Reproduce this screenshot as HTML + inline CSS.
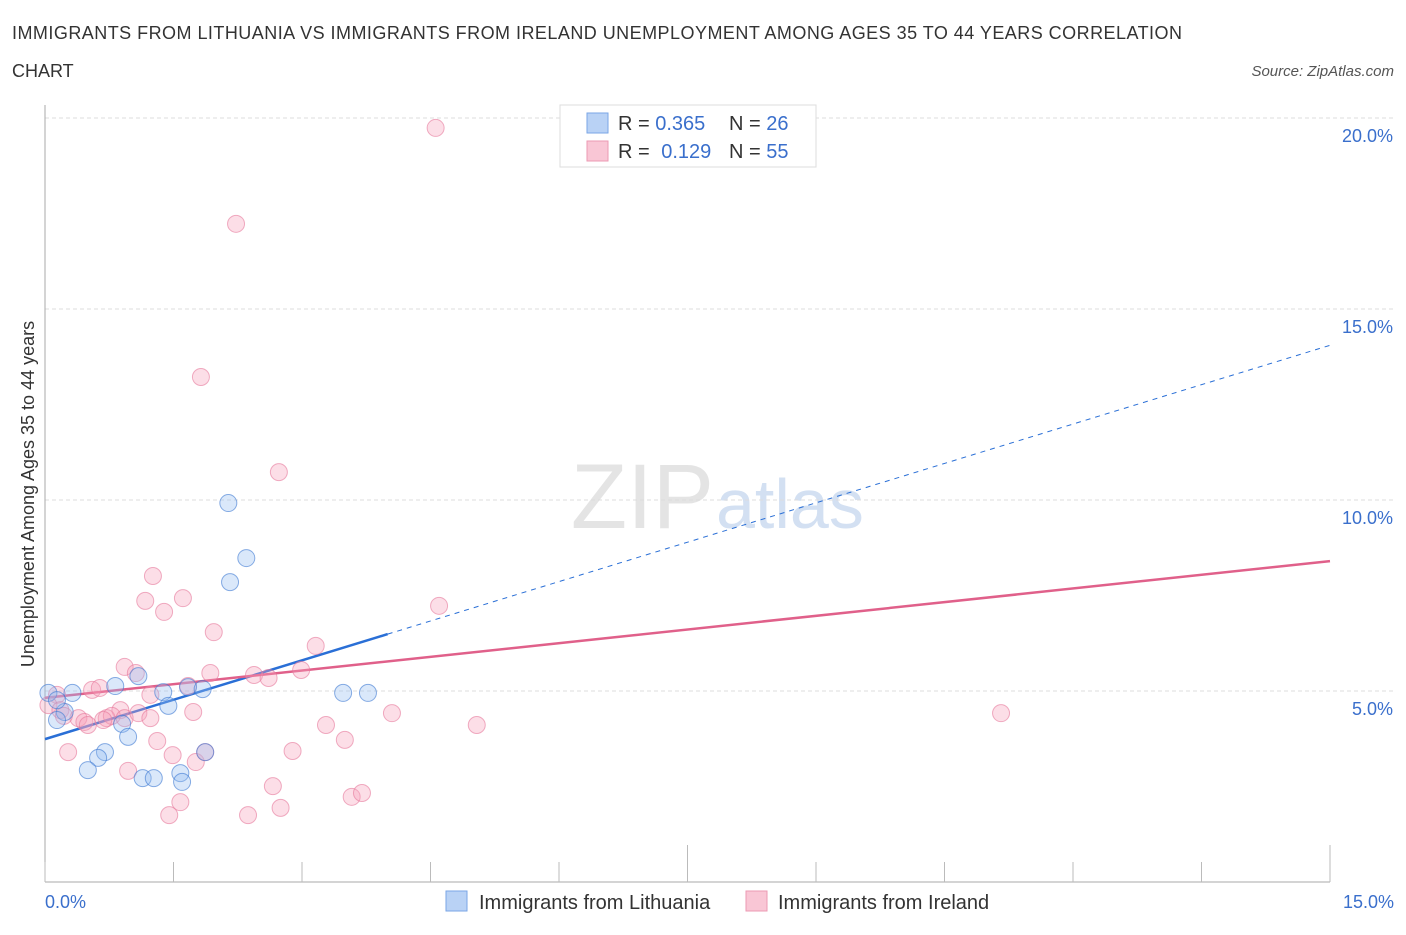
<!DOCTYPE html>
<html><head><meta charset="utf-8"><style>
body{margin:0;background:#fff;font-family:"Liberation Sans",sans-serif;}
svg text{font-family:"Liberation Sans",sans-serif;}
</style></head><body>
<svg id="chart" width="1406" height="930" xmlns="http://www.w3.org/2000/svg">
<text x="12" y="39" font-size="18" fill="#333" textLength="1170">IMMIGRANTS FROM LITHUANIA VS IMMIGRANTS FROM IRELAND UNEMPLOYMENT AMONG AGES 35 TO 44 YEARS CORRELATION</text>
<text x="12" y="77" font-size="18" fill="#333">CHART</text>
<text x="1394" y="76" font-size="15" fill="#555" text-anchor="end" font-style="italic">Source: ZipAtlas.com</text>
<text x="714" y="528" font-size="92" text-anchor="end" fill="#e4e4e4" font-family="Liberation Serif">ZIP</text>
<text x="716" y="528" font-size="70" fill="#d3e0f2">atlas</text>
<g id="grid"></g>
<line x1="45" y1="105" x2="45" y2="882" stroke="#aaa"/>
<line x1="45" y1="882" x2="1330" y2="882" stroke="#aaa"/>
<g id="xticks"></g>
<text transform="translate(34,494) rotate(-90)" font-size="18" fill="#333" text-anchor="middle">Unemployment Among Ages 35 to 44 years</text>
<text x="45" y="908" font-size="18" fill="#3a6fcc">0.0%</text>
<text x="1394" y="908" font-size="18" fill="#3a6fcc" text-anchor="end">15.0%</text>
<g id="trends"></g>
<g id="points"></g>
<g>
<rect x="560" y="105" width="256" height="62" fill="#fff" stroke="#ddd"/>
<rect x="587" y="113" width="21" height="20" fill="#b9d2f5" stroke="#7aa6e6"/>
<rect x="587" y="141" width="21" height="20" fill="#f9c6d5" stroke="#ec9ab3"/>
<text x="618" y="130" font-size="20" fill="#333">R = <tspan fill="#3a6fcc">0.365</tspan></text>
<text x="729" y="130" font-size="20" fill="#333">N = <tspan fill="#3a6fcc">26</tspan></text>
<text x="618" y="158" font-size="20" fill="#333">R = <tspan fill="#3a6fcc" dx="6">0.129</tspan></text>
<text x="729" y="158" font-size="20" fill="#333">N = <tspan fill="#3a6fcc">55</tspan></text>
</g>
<g>
<rect x="446" y="891" width="21" height="20" fill="#b9d2f5" stroke="#7aa6e6"/>
<text x="479" y="909" font-size="20" fill="#333">Immigrants from Lithuania</text></g>
<g>
<rect x="746" y="891" width="21" height="20" fill="#f9c6d5" stroke="#ec9ab3"/>
<text x="778" y="909" font-size="20" fill="#333">Immigrants from Ireland</text></g>
</svg>
<script>
const yTicks=[5,10,15,20];
const yTickLabels=["5.0%","10.0%","15.0%","20.0%"];
const xTicks=[0,1.5,3,4.5,6,7.5,9,10.5,12,13.5,15];
const blueX=[0.04,0.32,0.23,0.14,0.82,1.09,1.38,1.67,1.84,0.90,0.97,0.70,0.62,0.50,1.14,1.27,1.58,1.60,1.87,2.14,2.35,2.16,3.48,3.77,1.44,0.14];
const blueY=[4.95,4.95,4.45,4.24,5.13,5.39,4.97,5.10,5.05,4.14,3.80,3.40,3.25,2.93,2.72,2.72,2.85,2.62,3.40,9.92,8.48,7.85,4.95,4.95,4.61,4.76];
const pinkX=[4.56,2.23,1.82,2.73,1.26,1.17,1.61,1.39,4.60,1.97,3.16,0.93,1.06,1.93,2.44,2.61,2.99,1.67,1.23,0.55,0.64,0.14,0.04,0.18,0.39,0.46,0.50,0.88,0.72,0.78,0.93,1.09,1.73,4.05,5.04,11.16,3.28,3.50,1.31,0.27,1.49,2.89,1.76,0.97,2.66,2.75,3.58,3.70,1.58,1.45,2.37,1.87,0.22,0.68,1.23];
const pinkY=[19.74,17.23,13.22,10.73,8.01,7.36,7.43,7.07,7.23,6.54,6.18,5.63,5.47,5.47,5.42,5.34,5.55,5.13,4.90,5.03,5.08,4.90,4.63,4.50,4.29,4.19,4.11,4.50,4.29,4.35,4.29,4.42,4.45,4.42,4.11,4.42,4.11,3.72,3.69,3.40,3.32,3.43,3.14,2.91,2.51,1.94,2.23,2.33,2.09,1.75,1.75,3.40,4.35,4.24,4.29];
const blueTrend=[3.74,14.05];
const pinkTrend=[4.82,8.40];
const NS="http://www.w3.org/2000/svg";
const xs=v=>45+v/15*1285;
const ys=v=>882-v*38.2;
function mk(tag,attrs,parent){const e=document.createElementNS(NS,tag);for(const k in attrs)e.setAttribute(k,attrs[k]);document.getElementById(parent).appendChild(e);return e;}
yTicks.forEach((t,i)=>{
 const l=mk('line',{x1:45,x2:1395,y1:ys(t),y2:ys(t),stroke:'#ddd','stroke-dasharray':'4,3'},'grid');
 
 
 const tx=mk('text',{x:1393,y:ys(t)+24,'font-size':18,fill:'#3a6fcc','text-anchor':'end'},'grid');
 tx.textContent=yTickLabels[i];
 
 
});
xTicks.forEach((t,i)=>{
 const l=mk('line',{x1:xs(t),x2:xs(t),y1:(t===7.5||t===15?845:862),y2:882,stroke:'#bbb'},'xticks');
 
 
});
let l1=mk('line',{x1:xs(0),y1:ys(blueTrend[0]),x2:xs(4),y2:ys(blueTrend[0]+(blueTrend[1]-blueTrend[0])*4/15),stroke:'#2a6fd6','stroke-width':2.5},'trends');


let l2=mk('line',{x1:xs(4),y1:ys(blueTrend[0]+(blueTrend[1]-blueTrend[0])*4/15),x2:xs(15),y2:ys(blueTrend[1]),stroke:'#2a6fd6','stroke-width':1,'stroke-dasharray':'5,5'},'trends');


let l3=mk('line',{x1:xs(0),y1:ys(pinkTrend[0]),x2:xs(15),y2:ys(pinkTrend[1]),stroke:'#e0608a','stroke-width':2.5},'trends');


pinkX.forEach((x,i)=>{
 const c=mk('circle',{cx:xs(x),cy:ys(pinkY[i]),r:8.5,fill:'rgba(245,160,185,0.35)',stroke:'rgba(230,120,155,0.6)','stroke-width':1},'points');
 
 
});
blueX.forEach((x,i)=>{
 const c=mk('circle',{cx:xs(x),cy:ys(blueY[i]),r:8.5,fill:'rgba(150,190,240,0.35)',stroke:'rgba(60,120,210,0.6)','stroke-width':1},'points');
 
 
});
</script>
</body></html>
